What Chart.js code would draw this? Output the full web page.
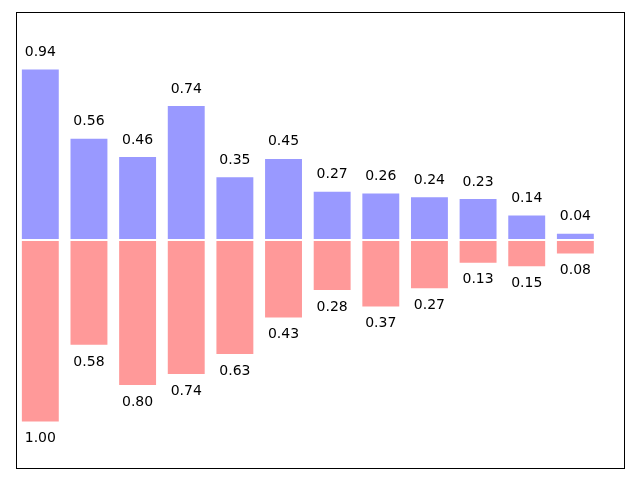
<!DOCTYPE html>
<html>
<head>
<meta charset="utf-8">
<script src="https://cdn.jsdelivr.net/npm/chart.js@4"></script>
<style>
  body { margin: 0; background: #fff; }
</style>
</head>
<body>
<canvas id="myChart" width="640" height="480"></canvas>
<script>
const positions = [0, 1, 2, 3, 4, 5, 6, 7, 8, 9, 10, 11];
const upperValues = [0.94, 0.56, 0.46, 0.74, 0.35, 0.45, 0.27, 0.26, 0.24, 0.23, 0.14, 0.04];
const lowerValues = [1.00, 0.58, 0.80, 0.74, 0.63, 0.43, 0.28, 0.37, 0.27, 0.13, 0.15, 0.08];

const ctx = document.getElementById('myChart');

// frame around the plot area
const frame = {
    id: 'frame',
    afterDraw(chart) {
        const a = chart.chartArea;
        const c = chart.ctx;
        c.save();
        c.strokeStyle = '#000';
        c.lineWidth = 1;
        c.strokeRect(Math.round(a.left) + 0.5, Math.round(a.top) + 0.5,
            Math.round(a.right - a.left), Math.round(a.bottom - a.top));
        c.restore();
    }
};

// value labels above / below each bar
const valueLabels = {
    id: 'valueLabels',
    afterDatasetsDraw(chart) {
        const c = chart.ctx;
        const xs = chart.scales.x;
        const ys = chart.scales.y;
        c.save();
        c.fillStyle = '#000';
        c.font = '14px "DejaVu Sans"';
        c.textAlign = 'center';
        positions.forEach((p, i) => {
            const x = xs.getPixelForValue(p);
            c.textBaseline = 'bottom';
            c.fillText(upperValues[i].toFixed(2), x, ys.getPixelForValue(upperValues[i] + 0.05));
            c.textBaseline = 'top';
            c.fillText(lowerValues[i].toFixed(2), x, ys.getPixelForValue(-lowerValues[i] - 0.05));
        });
        c.restore();
    }
};

new Chart(ctx, {
    type: 'bar',
    data: {
        datasets: [{
            data: positions.map((p, i) => ({ x: p, y: upperValues[i] })),
            backgroundColor: '#9999ff',
            borderColor: '#ffffff',
            borderWidth: 1,
            borderSkipped: false,
            grouped: false,
            barPercentage: 0.8,
            categoryPercentage: 1
        }, {
            data: positions.map((p, i) => ({ x: p, y: -lowerValues[i] })),
            backgroundColor: '#ff9999',
            borderColor: '#ffffff',
            borderWidth: 1,
            borderSkipped: false,
            grouped: false,
            barPercentage: 0.8,
            categoryPercentage: 1
        }]
    },
    options: {
        responsive: false,
        animation: false,
        layout: { padding: { left: 16, right: 16, top: 12, bottom: 12 } },
        plugins: {
            legend: { display: false },
            tooltip: { enabled: false }
        },
        scales: {
            x: { type: 'linear', min: -0.5, max: 12, offset: false, display: false },
            y: { min: -1.25, max: 1.25, display: false }
        }
    },
    plugins: [frame, valueLabels]
});
</script>
</body>
</html>
